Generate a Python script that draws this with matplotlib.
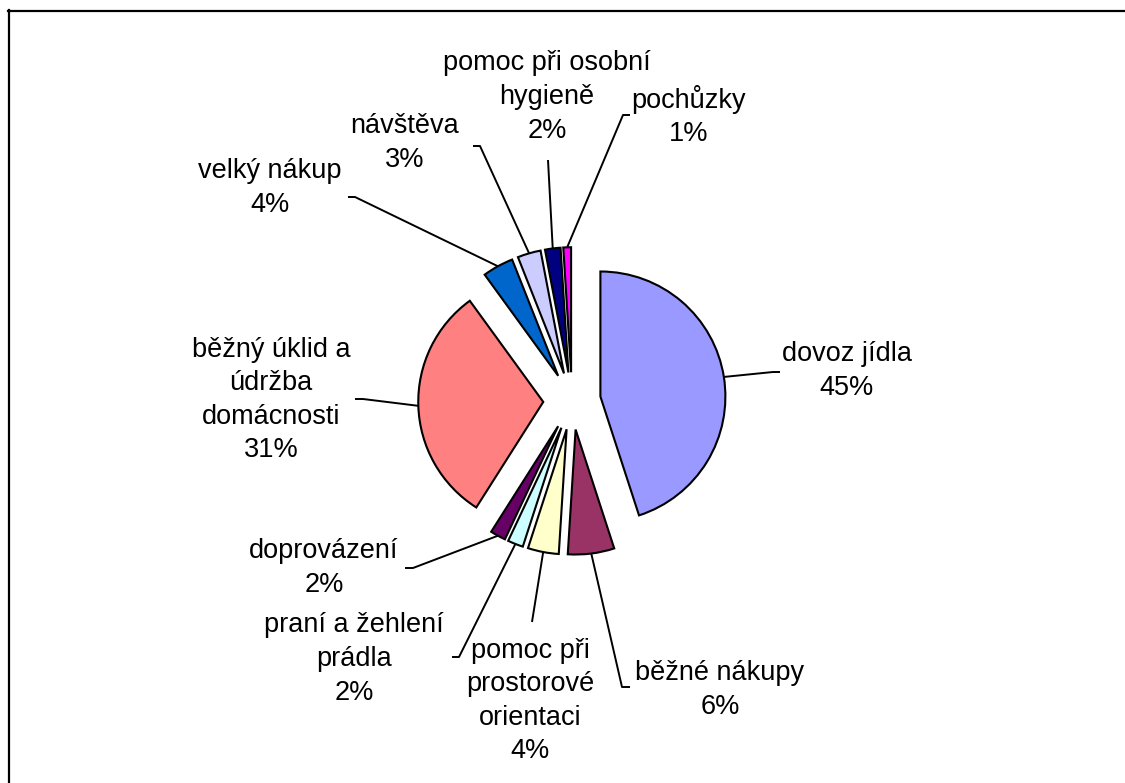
import matplotlib
matplotlib.use('Agg')
import matplotlib.pyplot as plt
from matplotlib.lines import Line2D
import numpy as np

W, H = 1125, 783

# data
labels = ["dovoz jídla", "běžné nákupy", "pomoc při\nprostorové\norientaci",
          "praní a žehlení\nprádla", "doprovázení", "běžný úklid a\núdržba\ndomácnosti",
          "velký nákup", "návštěva", "pomoc při osobní\nhygieně", "pochůzky"]
values = [45, 6, 4, 2, 2, 31, 4, 3, 2, 1]
colors = ["#9999FF", "#993366", "#FFFFCC", "#CCFFFF", "#660066",
          "#FF8080", "#0066CC", "#CCCCFF", "#000080", "#FF00FF"]

# label layout (pixel coords, y from top)
label_xy = [(847, 371), (720, 690), (530, 701), (354, 659), (324, 568),
            (271, 400), (270, 188), (405, 143), (547, 97), (689, 116)]
leader_pts = [
    [(773, 372), (780, 372)],
    [(622, 687), (630, 687)],
    [(532, 622)],
    [(459, 657), (452, 657)],
    [(413, 568), (405, 568)],
    [(363, 399), (355, 399)],
    [(355, 197), (348, 197)],
    [(480, 146), (473, 146)],
    [(548, 160)],
    [(623, 115), (630, 115)],
]

CX, CY, R = 572, H - 401, 125
EXPLODE = 0.23 * R

fig = plt.figure(figsize=(W / 100, H / 100), dpi=100)
fig.patch.set_facecolor("white")
ax = fig.add_axes([0, 0, 1, 1])

wedges, _ = ax.pie(values, colors=colors, explode=[EXPLODE] * len(values),
                   startangle=90, counterclock=False, center=(CX, CY), radius=R,
                   wedgeprops={"linewidth": 1.5, "edgecolor": "black"})
ax.set_xlim(0, W)
ax.set_ylim(0, H)
ax.set_aspect("auto")
ax.axis("off")

for w, lab, v, (lx, ly), pts in zip(wedges, labels, values, label_xy, leader_pts):
    mid = np.deg2rad((w.theta1 + w.theta2) / 2)
    sx = w.center[0] + w.r * np.cos(mid)
    sy = w.center[1] + w.r * np.sin(mid)
    xs = [sx] + [p[0] for p in pts]
    ys = [sy] + [H - p[1] for p in pts]
    ax.plot(xs, ys, color="black", linewidth=1.4, solid_capstyle="butt")
    ax.text(lx, H - ly, f"{lab}\n{v}%", ha="center", va="center",
            multialignment="center", fontsize=19.5, family="Liberation Sans",
            linespacing=1.38, color="black")

# chart frame (only top/left edges visible)
fig.add_artist(Line2D([9 / W, 9 / W], [0, 1 - 10 / H], color="black",
                      linewidth=1.6, transform=fig.transFigure))
fig.add_artist(Line2D([8 / W, 1], [1 - 11 / H, 1 - 11 / H], color="black",
                      linewidth=1.6, transform=fig.transFigure))

fig.savefig("out.png", dpi=100, facecolor="white")
